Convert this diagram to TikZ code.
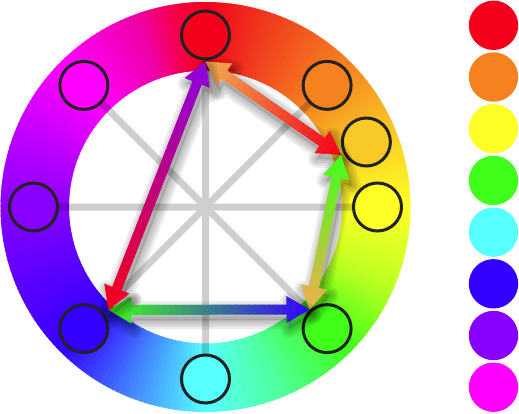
\documentclass[tikz,border=0pt]{standalone}
\usetikzlibrary{calc}
% ring colours
\definecolor{r1}{HTML}{F5001A}
\definecolor{r2}{HTML}{F03A1E}
\definecolor{r3}{HTML}{F5821F}
\definecolor{r4}{HTML}{F9C925}
\definecolor{r5}{HTML}{FFFF26}
\definecolor{r6}{HTML}{C0FF22}
\definecolor{r7}{HTML}{40FF1A}
\definecolor{r8}{HTML}{50FF9A}
\definecolor{r9}{HTML}{57FFFF}
\definecolor{r10}{HTML}{4282FF}
\definecolor{r11}{HTML}{3300FF}
\definecolor{r12}{HTML}{5C00FF}
\definecolor{r13}{HTML}{8800FF}
\definecolor{r14}{HTML}{C200FF}
\definecolor{r15}{HTML}{FF00FF}
\definecolor{r16}{HTML}{F000A8}
\definecolor{r17}{HTML}{F50040}
% swatch colours
\definecolor{cred}{HTML}{F5001A}
\definecolor{corange}{HTML}{F5821F}
\definecolor{cgold}{HTML}{F9C925}
\definecolor{cyellow}{HTML}{FFFF26}
\definecolor{cgreen}{HTML}{40FF1A}
\definecolor{ccyan}{HTML}{57FFFF}
\definecolor{cblue}{HTML}{3300FF}
\definecolor{cviolet}{HTML}{8800FF}
\definecolor{cmagenta}{HTML}{FF00FF}
\definecolor{aorange}{HTML}{F0AE4E}
\definecolor{apurple}{HTML}{8A00E0}
\definecolor{outline}{HTML}{222222}

\newdimen\gax \newdimen\gay \newdimen\gbx \newdimen\gby
\newcommand\arrowshape{(0,0) -- (23,13.5) -- (23,5) -- ({\garlen-23},5) -- ({\garlen-23},13.5) -- (\garlen,0) -- ({\garlen-23},-13.5) -- ({\garlen-23},-5) -- (23,-5) -- (23,-13.5) -- cycle}
% #1 start coordinate, #2 end coordinate, #3 colour at start, #4 colour at end
\newcommand\gradarrow[4]{%
  \pgfextractx{\gax}{\pgfpointanchor{#1}{center}}%
  \pgfextracty{\gay}{\pgfpointanchor{#1}{center}}%
  \pgfextractx{\gbx}{\pgfpointanchor{#2}{center}}%
  \pgfextracty{\gby}{\pgfpointanchor{#2}{center}}%
  \pgfmathsetmacro\garang{atan2(\gby-\gay,\gbx-\gax)}%
  \pgfmathsetmacro\garlen{veclen(\gbx-\gax,\gby-\gay)}%
  \begin{scope}[shift={(#1)},shift={(2.5,-5.5)},rotate=\garang]
    \foreach \w in {18,13,8,3}{\draw[black,opacity=0.075,line width=\w pt,line join=round] \arrowshape;}
    \fill[black,opacity=0.12] \arrowshape;
  \end{scope}
  \begin{scope}[shift={(#1)},rotate=\garang]
    \clip \arrowshape;
    \foreach \i in {0,...,29}{%
      \pgfmathsetmacro\gpc{100*(\i+0.5)/30}%
      \fill[#4!\gpc!#3] ({\garlen*\i/30},-14) rectangle ({\garlen*(\i+1)/30+0.8},14);
    }
  \end{scope}
}

\tikzset{
  spot/.style={circle, draw=outline, line width=3pt, minimum size=48pt, inner sep=0pt},
  swatch/.style={circle, draw=none, minimum size=49.4pt, inner sep=0pt},
  spoke/.style={black, line width=7pt}
}

\begin{document}
\begin{tikzpicture}[x=1pt,y=1pt]
\useasboundingbox (-205.5,-206) rectangle (313.5,207);

% colour ring
\foreach \angA/\colA/\angB/\colB in {90/r1/72/r2, 72/r2/45/r3, 45/r3/22.5/r4, 22.5/r4/0/r5, 0/r5/-22.5/r6, -22.5/r6/-45/r7, -45/r7/-67.5/r8, -67.5/r8/-90/r9, -90/r9/-112.5/r10, -112.5/r10/-135/r11, -135/r11/-157.5/r12, -157.5/r12/-180/r13, -180/r13/-202.5/r14, -202.5/r14/-225/r15, -225/r15/-250/r16, -250/r16/-262/r17, -262/r17/-270/r1}{
  \foreach \i in {0,...,15}{
    \pgfmathsetmacro\wsa{\angA+(\angB-\angA)*\i/16}
    \pgfmathsetmacro\wsb{\angA+(\angB-\angA)*(\i+1)/16-0.5}
    \pgfmathsetmacro\wpc{100*(\i+0.5)/16}
    \fill[\colB!\wpc!\colA] (\wsa:136.5) arc[start angle=\wsa,end angle=\wsb,radius=136.5] -- (\wsb:205) arc[start angle=\wsb,end angle=\wsa,radius=205] -- cycle;
  }
}

% spokes
\begin{scope}[transparency group, opacity=0.19]
  \foreach \a in {0,45,90,135} \draw[spoke] (\a:172) -- (\a+180:172);
\end{scope}

% circles on the wheel
\node[spot, fill=cred]     (c90)  at (90:172)   {};
\node[spot, fill=corange]  (c45)  at (45:172)   {};
\node[spot, fill=cgold]    (c22)  at (22:173.5) {};
\node[spot, fill=cyellow]  (c0)   at (0:172)    {};
\node[spot, fill=cgreen]   (c315) at (-45:172)  {};
\node[spot, fill=ccyan]    (c270) at (-90:172)  {};
\node[spot, fill=cblue]    (c225) at (-135:172) {};
\node[spot, fill=cviolet]  (c180) at (180:172)  {};
\node[spot, fill=cmagenta] (c135) at (135:172)  {};

% swatches
\node[swatch, fill=cred]     (s1) at (288,181.7)  {};
\node[swatch, fill=corange]  (s2) at (288,130)    {};
\node[swatch, fill=cyellow]  (s3) at (288,78.3)   {};
\node[swatch, fill=cgreen]   (s4) at (288,26.6)   {};
\node[swatch, fill=ccyan]    (s5) at (288,-25.1)  {};
\node[swatch, fill=cblue]    (s6) at (288,-76.8)  {};
\node[swatch, fill=cviolet]  (s7) at (288,-128.5) {};
\node[swatch, fill=cmagenta] (s8) at (288,-180.2) {};

% arrow end points
\coordinate (T)  at (0,145.5);
\coordinate (R)  at (135.5,52);
\coordinate (BR) at (104,-102.5);
\coordinate (BL) at (-97,-103);

\gradarrow{T}{R}{aorange}{cred}
\gradarrow{R}{BR}{cgreen}{aorange}
\gradarrow{BR}{BL}{cblue}{cgreen}
\gradarrow{BL}{T}{cred}{apurple}
\end{tikzpicture}
\end{document}
